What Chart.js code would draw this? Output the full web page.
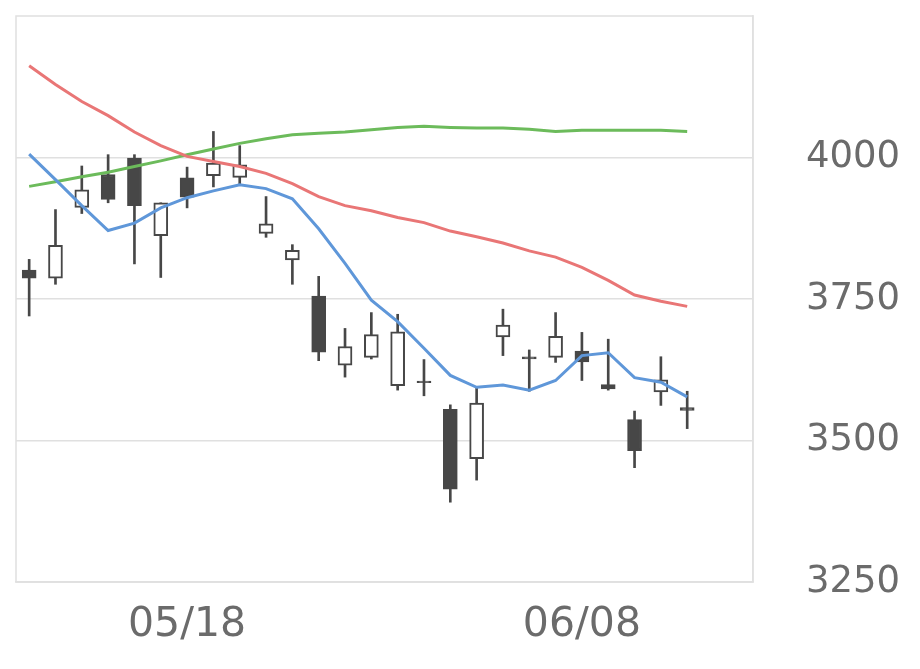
<!DOCTYPE html>
<html>
<head>
<meta charset="utf-8">
<script src="https://cdn.jsdelivr.net/npm/chart.js@4/dist/chart.umd.min.js"></script>
<style>
  html, body { margin: 0; padding: 0; background: #ffffff; }
  #c { display: block; }
</style>
</head>
<body>
<canvas id="c" width="920" height="669"></canvas>
<script>
// Trading days (last two are empty slots on the axis)
const dates = ["05/08","05/11","05/12","05/13","05/14","05/15","05/18","05/19","05/20","05/21","05/22",
  "05/25","05/26","05/27","05/28","05/29","06/01","06/02","06/03","06/04","06/05",
  "06/08","06/09","06/10","06/11","06/12","06/15","06/16"];
const shownTicks = ["05/18", "06/08"];

const openPrices  = [3801,3787,3912,3970,3999,3862,3964,3968,3965,3866,3819,3755,3633,3647,3597,3605,3555,3468,3683,3648,3647,3658,3599,3537,3586,3558];
const highPrices  = [3820,3908,3985,4005,4005,3920,3983,4046,4021,3931,3846,3790,3698,3726,3723,3643,3563,3595,3732,3660,3726,3691,3679,3552,3648,3587];
const lowPrices   = [3720,3776,3901,3920,3812,3788,3911,3948,3952,3859,3776,3641,3612,3644,3589,3579,3391,3430,3650,3587,3638,3606,3589,3452,3562,3521];
const closePrices = [3787,3845,3943,3926,3915,3920,3930,3990,3987,3883,3836,3656,3666,3687,3692,3602,3414,3566,3704,3644,3684,3639,3591,3482,3607,3553];

const ma5  = [4006,3961,3915,3871,3884,3911,3929,3941,3952,3945,3927,3874,3813,3748,3710,3663,3615,3594,3598,3589,3606,3650,3655,3611,3603,3577];
const ma25 = [4162,4129,4099,4074,4045,4021,4002,3993,3984,3972,3954,3931,3915,3906,3894,3885,3870,3860,3849,3835,3824,3806,3783,3757,3746,3737];
const ma75 = [3949,3957,3966,3974,3984,3994,4005,4015,4025,4033,4040,4043,4045,4049,4053,4055,4053,4052,4052,4050,4046,4048,4048,4048,4048,4046];

const yTicks = [3250, 3500, 3750, 4000];

const candleColor = '#474747';
const gridColor = '#e0e0e0';
const textColor = '#6b6b6b';

const wickData = lowPrices.map((l, i) => [l, highPrices[i]]);
const bodyData = openPrices.map((o, i) => [o, closePrices[i]]);
const bodyFill = openPrices.map((o, i) => closePrices[i] > o ? '#ffffff' : candleColor);

const framePlugin = {
  id: 'frame',
  beforeDatasetsDraw(chart) {
    const a = chart.chartArea, ctx = chart.ctx;
    ctx.save();
    ctx.strokeStyle = gridColor;
    ctx.lineWidth = 1.5;
    ctx.strokeRect(a.left, a.top, a.right - a.left, a.bottom - a.top);
    ctx.restore();
  }
};

new Chart(document.getElementById('c'), {
  data: {
    labels: dates,
    datasets: [
      { type: 'line', label: 'MA5', data: ma5, borderColor: '#5f97d9', borderWidth: 3, pointRadius: 0, tension: 0, order: 0 },
      { type: 'line', label: 'MA25', data: ma25, borderColor: '#e97676', borderWidth: 3, pointRadius: 0, tension: 0, order: 0 },
      { type: 'line', label: 'MA75', data: ma75, borderColor: '#6cbb5b', borderWidth: 3, pointRadius: 0, tension: 0, order: 0 },
      { type: 'bar', label: 'body', data: bodyData, backgroundColor: bodyFill, borderColor: candleColor,
        borderWidth: 2, borderSkipped: false, barThickness: 14, grouped: false, order: 1 },
      { type: 'bar', label: 'wick', data: wickData, backgroundColor: candleColor, borderWidth: 0,
        barThickness: 2, grouped: false, order: 2 }
    ]
  },
  options: {
    responsive: false,
    animation: false,
    devicePixelRatio: 1,
    layout: { padding: { left: 16, top: 16, right: 0, bottom: 0 } },
    plugins: { legend: { display: false }, tooltip: { enabled: false } },
    scales: {
      x: {
        type: 'category',
        offset: true,
        grid: {
          offset: false,
          drawTicks: false,
          lineWidth: 1.5,
          color: (ctx) => (ctx.tick && shownTicks.includes(dates[ctx.index])) ? gridColor : 'rgba(0,0,0,0)'
        },
        border: { display: true, color: gridColor, width: 1.5 },
        ticks: {
          autoSkip: false,
          maxRotation: 0,
          padding: 19,
          color: textColor,
          font: { family: 'DejaVu Sans', size: 41 },
          callback: (v, i) => shownTicks.includes(dates[i]) ? dates[i] : null
        },
        afterFit: (s) => { s.height = 87; s.paddingLeft = 0; s.paddingRight = 0; }
      },
      y: {
        position: 'right',
        min: 3250,
        max: 4250,
        afterBuildTicks: (s) => { s.ticks = yTicks.concat([4250]).map(v => ({ value: v })); },
        grid: { drawTicks: false, color: gridColor, lineWidth: 1.5 },
        border: { display: true, color: gridColor, width: 1.5 },
        ticks: {
          padding: 53,
          color: textColor,
          font: { family: 'DejaVu Sans', size: 37 },
          callback: (v) => yTicks.includes(v) ? String(v) : null
        },
        afterFit: (s) => { s.width = 167; s.paddingTop = 0; s.paddingBottom = 0; }
      }
    }
  },
  plugins: [framePlugin]
});
</script>
</body>
</html>
